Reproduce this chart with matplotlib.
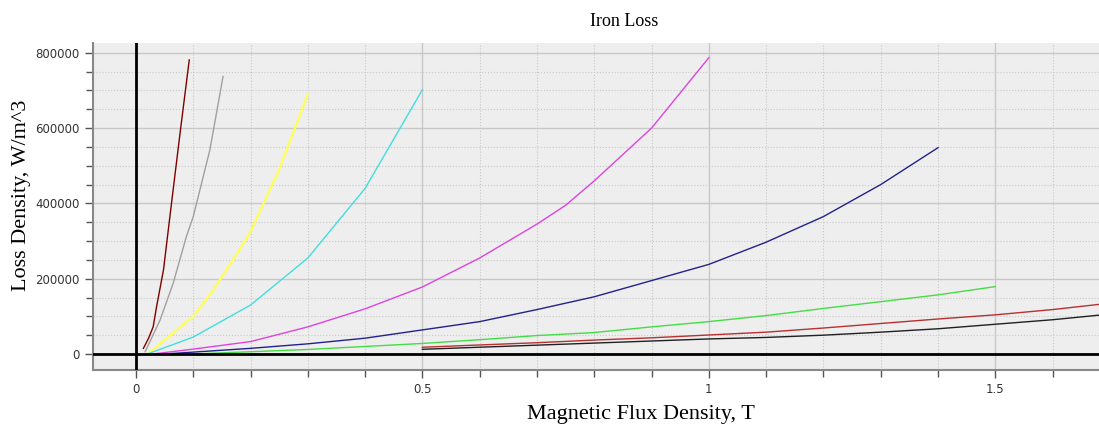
import numpy as np
import matplotlib.pyplot as plt
from matplotlib.ticker import MultipleLocator

# loss curves (B in T, loss in W/m^3), one per frequency
b_maroon = [0.013, 0.022, 0.03, 0.036, 0.048, 0.062, 0.077, 0.093]
p_maroon = [15000, 42000, 72000, 126000, 223000, 400000, 587000, 781000]

b_grey = [0.016, 0.042, 0.065, 0.088, 0.1, 0.129, 0.152]
p_grey = [6000, 90000, 188000, 312000, 365000, 542000, 737000]

b_yellow = [0.02, 0.05, 0.1, 0.135, 0.18, 0.2, 0.25, 0.3]
p_yellow = [0, 37000, 100000, 170000, 275000, 325000, 490000, 690000]

b_cyan = [0.02, 0.1, 0.2, 0.3, 0.4, 0.5]
p_cyan = [0, 45000, 130000, 255000, 440000, 702000]

b_magenta = [0.03, 0.1, 0.2, 0.3, 0.4, 0.5, 0.6, 0.7, 0.75, 0.8, 0.9, 1.0]
p_magenta = [0, 13000, 33000, 72000, 120000, 178000, 255000, 345000, 395000, 460000, 600000, 787000]

b_blue = [0.05, 0.2, 0.3, 0.4, 0.5, 0.6, 0.7, 0.8, 0.9, 1.0, 1.1, 1.2, 1.3, 1.4]
p_blue = [0, 15000, 27000, 42000, 64000, 86000, 118000, 152000, 195000, 238000, 297000, 365000, 450000, 548000]

b_green = [0.1, 0.2, 0.3, 0.4, 0.5, 0.6, 0.7, 0.8, 0.9, 1.0, 1.1, 1.2, 1.3, 1.4, 1.5]
p_green = [0, 6000, 12000, 20000, 28000, 38000, 49000, 57000, 72000, 86000, 102000, 121000, 139000, 157000, 179000]

b_high = [0.5, 0.6, 0.7, 0.8, 0.9, 1.0, 1.1, 1.2, 1.3, 1.4, 1.5, 1.6, 1.7]
p_red = [18000, 24000, 30000, 37000, 43000, 50500, 58000, 69000, 81000, 93000, 104000, 118000, 135000]
p_black = [12500, 18000, 23500, 29000, 34500, 40000, 44000, 50000, 58000, 67000, 79000, 91000, 106000]

fig = plt.figure(figsize=(10.99, 4.26), dpi=100)
ax = fig.add_axes([93/1099, 56/426, 1 - 93/1099, 327/426])
ax.set_facecolor('#eeeeee')

ax.plot(b_maroon, p_maroon, color='#800000', lw=1)
ax.plot(b_grey, p_grey, color='#a0a0a0', lw=1)
ax.plot(b_yellow, p_yellow, color='#ffff55', lw=1.6)
ax.plot(b_cyan, p_cyan, color='#44dddd', lw=1)
ax.plot(b_magenta, p_magenta, color='#dd44dd', lw=1)
ax.plot(b_blue, p_blue, color='#22228c', lw=1)
ax.plot(b_green, p_green, color='#44dd44', lw=1)
ax.plot(b_high, p_red, color='#b83030', lw=1)
ax.plot(b_high, p_black, color='#202020', lw=1)

ax.axhline(0, color='black', lw=2, zorder=3)
ax.axvline(0, color='black', lw=2, zorder=3)

ax.set_xlim(-0.075, 1.681)
ax.set_ylim(-42500, 826000)

ax.xaxis.set_major_locator(MultipleLocator(0.5))
ax.xaxis.set_minor_locator(MultipleLocator(0.1))
ax.yaxis.set_major_locator(MultipleLocator(200000))
ax.yaxis.set_minor_locator(MultipleLocator(50000))
ax.set_xticks([0, 0.5, 1, 1.5], ['0', '0.5', '1', '1.5'])
ax.set_yticks([0, 200000, 400000, 600000, 800000],
              ['0', '200000', '400000', '600000', '800000'])

ax.grid(which='major', color='#c8c8c8', lw=1, ls='-')
ax.grid(which='minor', color='#c8c8c8', lw=0.8, ls=':')
ax.set_axisbelow(True)

ax.tick_params(which='both', direction='out', colors='#555555',
               labelcolor='#333333', labelsize=8.5)
ax.tick_params(which='major', length=6, width=1)
ax.tick_params(which='minor', length=5, width=1)

for s in ['top', 'right']:
    ax.spines[s].set_visible(False)
for s in ['left', 'bottom']:
    ax.spines[s].set_color('#888888')
    ax.spines[s].set_linewidth(1.5)

serif = ['Liberation Serif', 'DejaVu Serif']
fig.text(624/1099, 1 - 22/426, 'Iron Loss', family=serif, fontsize=13,
         ha='center', va='center')
fig.text(641/1099, 1 - 414/426, 'Magnetic Flux Density, T', family=serif,
         fontsize=16, ha='center', va='center')
fig.text(22/1099, 1 - 195/426, 'Loss Density, W/m^3', family=serif,
         fontsize=16, ha='center', va='center', rotation=90)

fig.savefig('out.png', dpi=100)
